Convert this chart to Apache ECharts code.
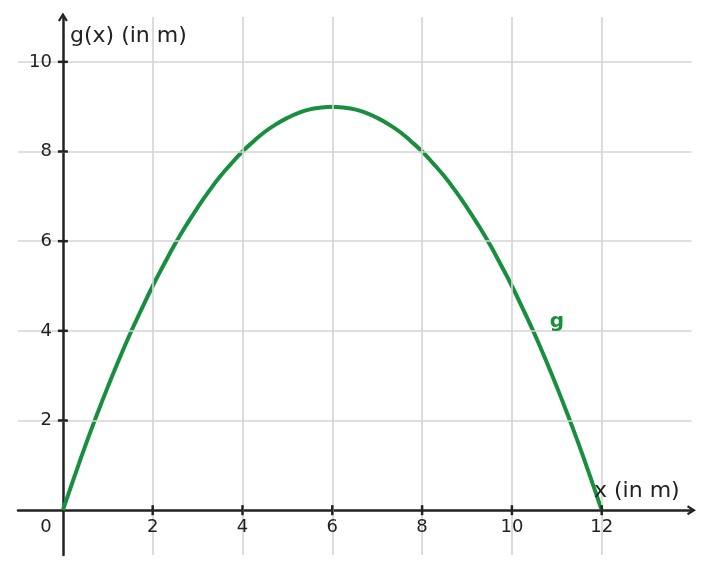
<!DOCTYPE html>
<html>
<head>
<meta charset="utf-8">
<script src="https://cdn.jsdelivr.net/npm/echarts@6/dist/echarts.min.js"></script>
<style>html,body{margin:0;padding:0;background:#fff}#c{width:709px;height:574px}</style>
</head>
<body>
<div id="c"></div>
<script>
// Curve points (x in m, g(x) in m)
const xs = [0,0.25,0.5,0.75,1,1.25,1.5,1.75,2,2.25,2.5,2.75,3,3.25,3.5,3.75,4,4.25,4.5,4.75,5,5.25,5.5,5.75,6,
            6.25,6.5,6.75,7,7.25,7.5,7.75,8,8.25,8.5,8.75,9,9.25,9.5,9.75,10,10.25,10.5,10.75,11,11.25,11.5,11.75,12];
const gs = [0,0.73,1.44,2.11,2.75,3.36,3.94,4.48,5,5.48,5.94,6.36,6.75,7.11,7.44,7.73,8,8.23,8.44,8.61,8.75,8.86,8.94,8.98,9,
            8.98,8.94,8.86,8.75,8.61,8.44,8.23,8,7.73,7.44,7.11,6.75,6.36,5.94,5.48,5,4.48,3.94,3.36,2.75,2.11,1.44,0.73,0];
const xTicks = [2,4,6,8,10,12];
const yTicks = [2,4,6,8,10];
const xName = 'x (in m)';
const yName = 'g(x) (in m)';
const curveName = 'g';

const FONT = 'DejaVu Sans';
const AX = '#222222';
const GREEN = '#178f3f';
const GRIDC = '#d4d4d4';
const arrow = 'path://M0,8 L5,0 L10,8 L8,9 L5,4 L2,9 Z';

const chart = echarts.init(document.getElementById('c'), null, {renderer:'canvas'});
const lbl = {color:AX, fontFamily:FONT, fontSize:18};

const option = {
  animation:false,
  backgroundColor:'#fff',
  grid:{left:18, right:17.5, top:17, bottom:19, containLabel:false, outerBoundsMode:'none'},
  xAxis:{type:'value', min:-1, max:14, z:3,
    splitLine:{show:false},
    axisLine:{show:true, onZero:true, symbol:['none', arrow], symbolSize:[12,9], lineStyle:{color:AX, width:2.5}},
    axisTick:{show:false}, axisLabel:{show:false}},
  yAxis:{type:'value', min:-1, max:11, z:3,
    splitLine:{show:false},
    axisLine:{show:true, onZero:true, symbol:['none', arrow], symbolSize:[12,9], lineStyle:{color:AX, width:2.5}},
    axisTick:{show:false}, axisLabel:{show:false}},
  graphic:[
    {type:'text', left:70, top:25, z:10, style:{text:yName, font:'22px "DejaVu Sans"', fill:AX}},
    {type:'text', left:594, top:480, z:10, style:{text:xName, font:'22px "DejaVu Sans"', fill:AX}}
  ],
  series:[
    {
      type:'line', data:[], z:1, silent:true,
      markLine:{silent:true, symbol:'none', label:{show:false},
        lineStyle:{color:GRIDC, width:1.6, type:'solid'},
        data: xTicks.map(v=>({xAxis:v})).concat(yTicks.map(v=>({yAxis:v})))}
    },
    {
      type:'scatter', z:5, silent:true, symbol:'rect', symbolSize:[2.5,10],
      itemStyle:{color:AX, opacity:1}, data: xTicks.map(v=>[v,0]),
      label:Object.assign({show:true, position:'inside', offset:[0,17], formatter:p=>String(p.value[0])}, lbl)
    },
    {
      type:'scatter', z:5, silent:true, symbol:'rect', symbolSize:[10,2.5],
      itemStyle:{color:AX, opacity:1}, data: yTicks.map(v=>[0,v]),
      label:Object.assign({show:true, position:'left', distance:6, formatter:p=>String(p.value[1])}, lbl)
    },
    {
      type:'scatter', data:[[0,0]], symbolSize:0, z:5, silent:true,
      itemStyle:{opacity:1},
      label:Object.assign({show:true, formatter:'0', position:'inside', offset:[-17,17]}, lbl)
    },
    {
      name:curveName, type:'line', z:4, smooth:true, showSymbol:false, silent:true,
      data: xs.map((x,i)=>[x, gs[i]]),
      lineStyle:{color:GREEN, width:4},
      markPoint:{silent:true, symbol:'circle', symbolSize:0,
        label:{show:true, formatter:curveName, color:GREEN, fontFamily:FONT, fontSize:20, fontWeight:'bold'},
        data:[{coord:[11, 4.2]}]}
    }
  ]
};
chart.setOption(option);
</script>
</body>
</html>
